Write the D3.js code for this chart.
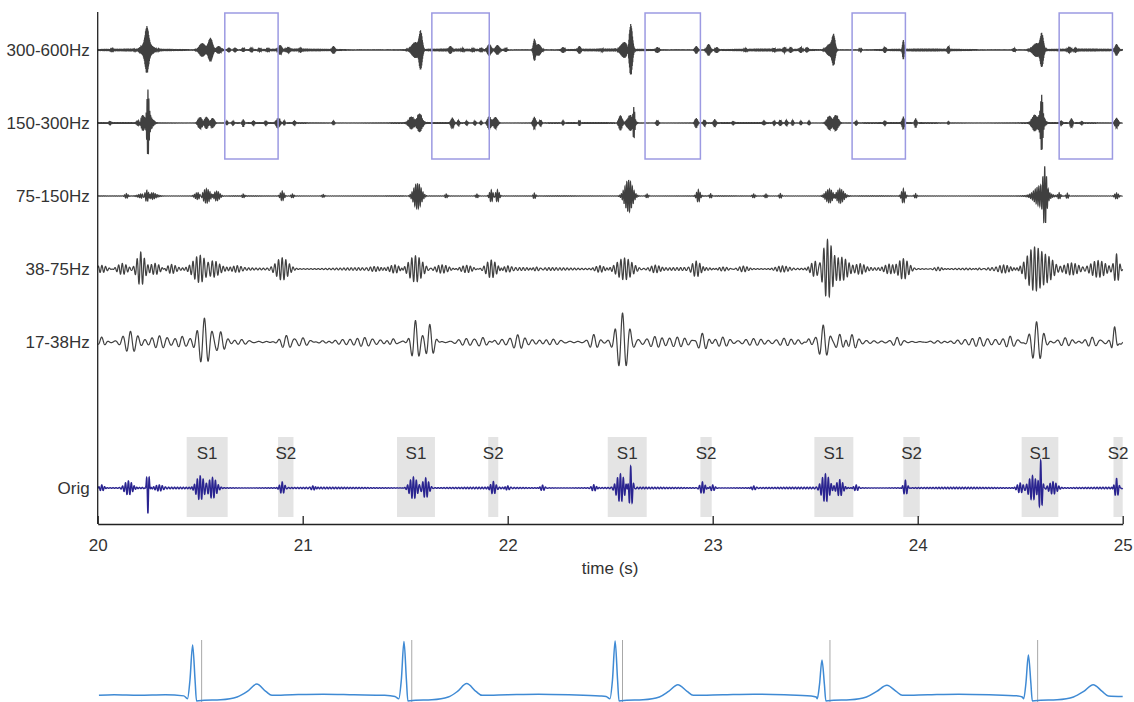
<!DOCTYPE html>
<html>
<head>
<meta charset="utf-8">
<script src="https://cdn.jsdelivr.net/npm/d3@7"></script>
<style>
  body { margin: 0; background: #fff; }
  text { font-family: "Liberation Sans", Arial, sans-serif; }
</style>
</head>
<body>
<svg id="chart" width="1134" height="702"></svg>
<script>
const timeDomain = [20, 25]
const xTicks = [20, 21, 22, 23, 24, 25]
const bandLabels = ["300-600Hz", "150-300Hz", "75-150Hz", "38-75Hz", "17-38Hz", "Orig"]
const bandFreqs = [450, 225, 112, 56, 27, 70]   // centre frequency of each band (Hz)
const bandFloor = [0.4, 0.4, 0.3, 1.5, 2.6, 0.8] // background wiggle level

// bursts per band: [time (s), amplitude, spread (s)]
const bursts300 = [
  [20.07, 2, 0.005], [20.24, 7, 0.025], [20.24, 17, 0.008], [20.51, 7, 0.014], [20.55, 12, 0.01],
  [20.59, 4, 0.01], [20.64, 2.5, 0.005], [20.67, 2.5, 0.005], [20.71, 2, 0.005], [20.75, 2.5, 0.005],
  [20.79, 2, 0.005], [20.83, 2, 0.005], [20.89, 5, 0.008], [20.93, 3, 0.007], [20.99, 2.5, 0.006],
  [21.15, 4, 0.006], [21.55, 8, 0.018], [21.575, 20, 0.008], [21.72, 4, 0.007], [21.78, 2, 0.005],
  [21.83, 2, 0.005], [21.87, 2, 0.005], [21.91, 6, 0.009], [21.95, 5, 0.009], [21.99, 2, 0.005],
  [22.13, 10, 0.005], [22.15, 6, 0.011], [22.27, 3, 0.006], [22.35, 4, 0.006], [22.46, 1.5, 0.005],
  [22.57, 8, 0.018], [22.6, 28, 0.008], [22.73, 3, 0.006], [22.92, 4, 0.006], [22.98, 6, 0.008],
  [23.02, 3, 0.006], [23.16, 2, 0.005], [23.3, 2, 0.005], [23.35, 3, 0.005], [23.38, 3, 0.005],
  [23.43, 3, 0.006], [23.46, 2.5, 0.005], [23.57, 6, 0.014], [23.59, 14, 0.007], [23.72, 1.5, 0.005],
  [23.84, 3, 0.005], [23.93, 10, 0.004], [24.15, 4, 0.005], [24.47, 2, 0.005], [24.58, 7, 0.018],
  [24.605, 17, 0.008], [24.74, 3, 0.008], [24.77, 2.5, 0.006], [24.97, 6, 0.007]
]
const bursts150 = [
  [20.06, 1.5, 0.005], [20.2, 3, 0.008], [20.22, 8, 0.009], [20.245, 28, 0.005], [20.25, 8, 0.014],
  [20.5, 6, 0.009], [20.53, 6, 0.009], [20.56, 5, 0.008], [20.63, 2, 0.005], [20.66, 2, 0.005],
  [20.71, 4, 0.005], [20.76, 2, 0.005], [20.82, 2, 0.005], [20.88, 5, 0.008], [20.91, 2.5, 0.005],
  [20.96, 2, 0.005], [21.15, 2, 0.005], [21.53, 6, 0.011], [21.57, 9, 0.011], [21.73, 5, 0.006],
  [21.76, 2.5, 0.005], [21.8, 2, 0.005], [21.84, 2, 0.005], [21.87, 2, 0.005], [21.91, 7, 0.008],
  [21.94, 6, 0.009], [22.13, 6, 0.006], [22.16, 3, 0.005], [22.27, 2.5, 0.005], [22.35, 3, 0.005],
  [22.55, 8, 0.008], [22.6, 8, 0.014], [22.615, 19, 0.005], [22.73, 2.5, 0.005], [22.92, 5, 0.006],
  [22.96, 3, 0.005], [23.01, 3.5, 0.005], [23.1, 1.5, 0.005], [23.25, 1.5, 0.005], [23.3, 2, 0.005],
  [23.33, 2.5, 0.005], [23.36, 2.5, 0.005], [23.39, 2.5, 0.005], [23.43, 2, 0.005], [23.47, 2, 0.005],
  [23.57, 7, 0.011], [23.6, 8, 0.011], [23.7, 2, 0.005], [23.84, 2, 0.005], [23.93, 6, 0.005],
  [23.99, 5, 0.005], [24.15, 1.5, 0.005], [24.57, 8, 0.011], [24.6, 9, 0.014], [24.605, 22, 0.005],
  [24.7, 2, 0.005], [24.75, 5, 0.006], [24.8, 1.5, 0.005], [24.97, 5, 0.007]
]
const bursts75 = [
  [20.14, 2.5, 0.008], [20.24, 10, 0.011], [20.245, 5, 0.028], [20.49, 4, 0.014], [20.53, 7, 0.018],
  [20.58, 5, 0.014], [20.71, 2, 0.006], [20.9, 5, 0.009], [20.95, 2, 0.006], [21.1, 1.5, 0.006],
  [21.56, 13, 0.018], [21.7, 2, 0.006], [21.85, 2, 0.006], [21.92, 6, 0.008], [21.95, 6, 0.008],
  [22.13, 3, 0.006], [22.59, 16, 0.018], [22.68, 2, 0.006], [22.93, 6, 0.008], [22.99, 2.5, 0.006],
  [23.2, 2, 0.006], [23.26, 2, 0.006], [23.33, 2.5, 0.006], [23.57, 7, 0.018], [23.62, 7, 0.018],
  [23.93, 7, 0.008], [23.99, 2.5, 0.006], [24.6, 10, 0.028], [24.62, 28, 0.009], [24.69, 3, 0.006],
  [24.73, 3, 0.006], [24.97, 3, 0.009]
]
const bursts38 = [
  [20.02, 3, 0.02], [20.12, 6, 0.024], [20.21, 17, 0.018], [20.28, 6, 0.024], [20.36, 4, 0.02],
  [20.5, 14, 0.032], [20.56, 8, 0.028], [20.68, 2.5, 0.02], [20.9, 11, 0.028], [21.35, 3, 0.03],
  [21.45, 3, 0.02], [21.55, 14, 0.032], [21.68, 4, 0.028], [21.8, 4, 0.028], [21.92, 9, 0.024],
  [22.0, 3, 0.02], [22.14, 3, 0.02], [22.45, 3, 0.02], [22.57, 11, 0.036], [22.72, 3, 0.02],
  [22.92, 8, 0.02], [23.05, 3, 0.03], [23.15, 2.5, 0.02], [23.34, 3, 0.03], [23.5, 8, 0.02],
  [23.56, 28, 0.022], [23.63, 10, 0.028], [23.72, 4, 0.02], [23.86, 4, 0.02], [23.93, 10, 0.024],
  [24.1, 2, 0.02], [24.3, 2, 0.02], [24.42, 4, 0.028], [24.57, 22, 0.036], [24.64, 10, 0.028],
  [24.75, 6, 0.036], [24.88, 8, 0.036], [24.97, 14, 0.011]
]
const bursts17 = [
  [20.02, 5, 0.015], [20.16, 10, 0.032], [20.3, 5, 0.036], [20.41, 4, 0.02], [20.52, 23, 0.028],
  [20.6, 8, 0.02], [20.7, 3, 0.036], [20.92, 7, 0.028], [21.0, 4, 0.028], [21.1, 3, 0.036],
  [21.3, 2.5, 0.03], [21.44, 4, 0.02], [21.55, 22, 0.019], [21.62, 18, 0.019], [21.8, 4, 0.045],
  [21.88, 6, 0.028], [22.05, 5, 0.024], [22.22, 3, 0.036], [22.42, 7, 0.02], [22.56, 28, 0.028],
  [22.72, 4, 0.028], [22.83, 3, 0.036], [22.95, 10, 0.024], [23.05, 4, 0.028], [23.2, 3, 0.045],
  [23.35, 3, 0.03], [23.47, 5, 0.015], [23.54, 18, 0.024], [23.62, 10, 0.024], [23.68, 6, 0.02],
  [23.9, 4, 0.02], [24.1, 2.5, 0.045], [24.3, 2.5, 0.03], [24.45, 4, 0.02], [24.58, 21, 0.028],
  [24.72, 4, 0.028], [24.85, 5, 0.028], [24.96, 16, 0.011]
]
const burstsOrig = [
  [20.02, 3, 0.01], [20.15, 7, 0.018], [20.245, -26, 0.005], [20.3, 3, 0.018], [20.5, 12, 0.018],
  [20.56, 10, 0.018], [20.9, 6, 0.011], [21.05, 2, 0.01], [21.54, 11, 0.018], [21.6, 10, 0.014],
  [21.93, 6, 0.011], [22.0, 2, 0.01], [22.17, 3, 0.01], [22.42, 3, 0.01], [22.55, 14, 0.018],
  [22.6, 22, 0.008], [22.95, 6, 0.011], [23.0, 3, 0.01], [23.2, 2, 0.01], [23.55, 14, 0.018],
  [23.62, 8, 0.014], [23.7, 3, 0.01], [23.94, 8, 0.009], [24.5, 5, 0.014], [24.56, 12, 0.018],
  [24.6, 27, 0.007], [24.66, 6, 0.018], [24.97, 10, 0.009]
]
const bandBursts = [bursts300, bursts150, bursts75, bursts38, bursts17, burstsOrig]

// highlighted windows (blue boxes) and heart-sound segments
const windows = [[20.62, 20.88], [21.63, 21.91], [22.67, 22.94], [23.68, 23.94], [24.69, 24.95]]
const s1Segments = [[20.434, 20.634], [21.46, 21.645], [22.488, 22.678], [23.496, 23.686], [24.507, 24.686]]
const s2Segments = [[20.88, 20.955], [21.905, 21.954], [22.94, 22.995], [23.93, 24.01], [24.955, 25.0]]

// ECG trace [time, mV] and R-wave markers
const ecgPoints = [
  [20.006, 0.03], [20.08, 0.04], [20.2, 0.03], [20.33, 0.04], [20.42, 0.02],
  [20.438, -0.03], [20.45, 0.3], [20.463, 0.93], [20.475, 0.3], [20.482, -0.07], [20.52, -0.06],
  [20.6, -0.05], [20.68, 0.0], [20.73, 0.1], [20.776, 0.23], [20.82, 0.1], [20.85, 0.03],
  [20.95, 0.04], [21.1, 0.05], [21.25, 0.04], [21.4, 0.03], [21.45, 0.01],
  [21.469, -0.03], [21.481, 0.3], [21.494, 0.99], [21.506, 0.3], [21.513, -0.07], [21.55, -0.06],
  [21.63, -0.05], [21.71, 0.0], [21.755, 0.1], [21.8, 0.24], [21.845, 0.1], [21.875, 0.03],
  [22.0, 0.04], [22.15, 0.05], [22.3, 0.04], [22.45, 0.02], [22.48, 0.01],
  [22.499, -0.03], [22.511, 0.3], [22.524, 1.0], [22.536, 0.3], [22.543, -0.07], [22.58, -0.06],
  [22.66, -0.05], [22.74, 0.0], [22.785, 0.1], [22.83, 0.22], [22.875, 0.1], [22.905, 0.03],
  [23.05, 0.04], [23.2, 0.05], [23.35, 0.04], [23.48, 0.02], [23.505, 0.0],
  [23.51, -0.03], [23.521, 0.22], [23.533, 0.66], [23.545, 0.22], [23.552, -0.07], [23.59, -0.06],
  [23.67, -0.05], [23.75, 0.0], [23.8, 0.1], [23.85, 0.21], [23.895, 0.1], [23.925, 0.03],
  [24.05, 0.04], [24.2, 0.05], [24.35, 0.04], [24.49, 0.02], [24.51, 0.0],
  [24.517, -0.03], [24.528, 0.25], [24.54, 0.75], [24.552, 0.25], [24.559, -0.07], [24.6, -0.06],
  [24.68, -0.05], [24.76, 0.0], [24.81, 0.1], [24.856, 0.22], [24.9, 0.1], [24.93, 0.02], [25.0, 0.01]
]
const rMarkers = [20.507, 21.532, 22.56, 23.572, 24.585]

const svg = d3.select("#chart")
const x = d3.scaleLinear().domain(timeDomain).range([97.7, 1122.7])
const rows = d3.scalePoint().domain([...bandLabels.slice(0, 5), "", "Orig"]).range([50, 488])
const amp = d3.scaleLinear().domain([-30, 30]).range([30, -30])
const ecgY = d3.scaleLinear().domain([0, 1]).range([697, 641])
const fontSize = 17

// shaded S1 / S2 segments
const segs = s1Segments.map(d => ({ r: d, label: "S1" })).concat(s2Segments.map(d => ({ r: d, label: "S2" })))
svg.append("g").selectAll("rect").data(segs).enter().append("rect")
  .attr("x", d => x(d.r[0]))
  .attr("width", d => x(d.r[1]) - x(d.r[0]))
  .attr("y", 437).attr("height", 80)
  .attr("fill", "#e4e4e4")
svg.append("g").selectAll("text").data(segs).enter().append("text")
  .attr("x", d => (x(d.r[0]) + x(d.r[1])) / 2)
  .attr("y", 453).attr("dy", "0.35em")
  .attr("text-anchor", "middle")
  .attr("font-size", fontSize).attr("fill", "#333")
  .text(d => d.label)

// band traces
const sampleRate = 3000
const times = d3.range(timeDomain[0], timeDomain[1], 1 / sampleRate)
const line = d3.line().x(d => x(d[0])).y(d => d[1])

bandLabels.forEach((label, i) => {
  const f = bandFreqs[i], base = rows(label)
  const pts = times.map(t => {
    let v = bandFloor[i] * Math.sin(2 * Math.PI * f * t) * (0.6 + 0.4 * Math.sin(2 * Math.PI * 1.3 * t + i))
    for (const [t0, a, s] of bandBursts[i]) {
      const d = t - t0
      if (Math.abs(d) > 4 * s) continue
      v += a * Math.exp(-d * d / (2 * s * s)) * Math.cos(2 * Math.PI * f * d)
    }
    return [t, base + amp(v)]
  })
  svg.append("path")
    .attr("d", line(pts))
    .attr("fill", "none")
    .attr("stroke", label === "Orig" ? "#2a2490" : "#404040")
    .attr("stroke-width", label === "Orig" ? 1.4 : 1.2)
})

// blue windows on the two top bands
svg.append("g").selectAll("rect").data(windows).enter().append("rect")
  .attr("x", d => x(d[0]))
  .attr("width", d => x(d[1]) - x(d[0]))
  .attr("y", 13).attr("height", 146)
  .attr("fill", "none")
  .attr("stroke", "#9c9ae2")
  .attr("stroke-width", 1.5)

// axes
svg.append("line")
  .attr("x1", x(timeDomain[0])).attr("x2", x(timeDomain[0]))
  .attr("y1", 12).attr("y2", 524)
  .attr("stroke", "#222").attr("stroke-width", 1.3)

const yAxis = svg.append("g")
  .attr("transform", `translate(${x(timeDomain[0])},0)`)
  .call(d3.axisLeft(rows).tickValues(bandLabels).tickSize(0).tickPadding(8))
yAxis.select(".domain").remove()
yAxis.selectAll("text").attr("font-size", fontSize).attr("fill", "#333").attr("font-family", null)

const xAxis = svg.append("g")
  .attr("transform", "translate(0,524)")
  .call(d3.axisBottom(x).tickValues(xTicks).tickFormat(d3.format("d"))
    .tickSizeInner(-8).tickSizeOuter(0).tickPadding(15))
xAxis.select(".domain").attr("stroke", "#222").attr("stroke-width", 1.3)
xAxis.selectAll(".tick line").attr("stroke", "#222").attr("stroke-width", 1.3)
xAxis.selectAll("text").attr("font-size", fontSize).attr("fill", "#333").attr("font-family", null)

svg.append("text")
  .attr("x", (x.range()[0] + x.range()[1]) / 2).attr("y", 568).attr("dy", "0.35em")
  .attr("text-anchor", "middle").attr("font-size", fontSize).attr("fill", "#333")
  .text("time (s)")

// ECG strip
svg.append("g").selectAll("line").data(rMarkers).enter().append("line")
  .attr("x1", d => x(d)).attr("x2", d => x(d))
  .attr("y1", 640).attr("y2", 702)
  .attr("stroke", "#a8a8a8").attr("stroke-width", 1)

svg.append("path")
  .attr("d", d3.line().x(d => x(d[0])).y(d => ecgY(d[1])).curve(d3.curveMonotoneX)(ecgPoints))
  .attr("fill", "none")
  .attr("stroke", "#3f8ad4")
  .attr("stroke-width", 1.5)
</script>
</body>
</html>
